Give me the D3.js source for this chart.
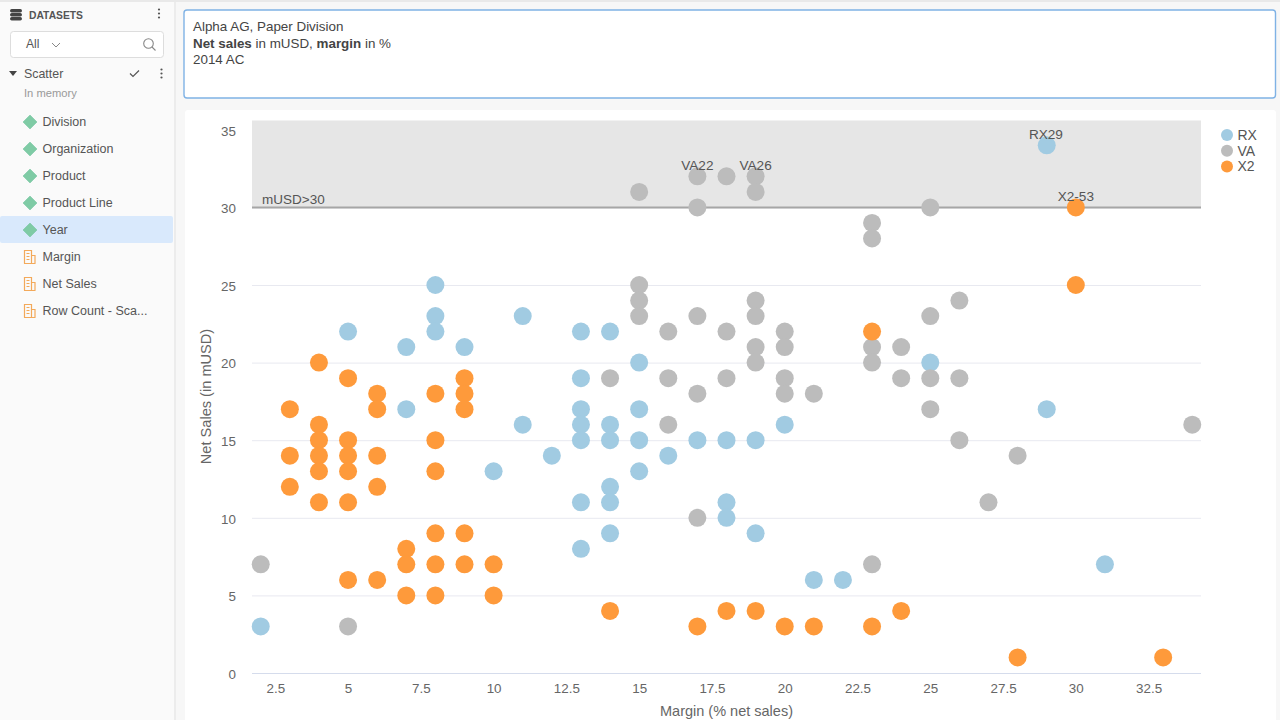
<!DOCTYPE html>
<html>
<head>
<meta charset="utf-8">
<script src="https://cdn.jsdelivr.net/npm/d3@7"></script>
<style>
html, body { margin: 0; padding: 0; background: #f7f7f7; overflow: hidden; }
svg { display: block; font-family: "Liberation Sans", Arial, sans-serif; }
</style>
</head>
<body>
<svg id="page" width="1280" height="720"></svg>
<script>
// values: [margin, net sales]
const rxPoints = [[2,3],[5,22],[7,21],[7,17],[8,25],[8,23],[8,22],[9,21],[10,13],[11,23],[11,16],[12,14],
  [13,22],[13,19],[13,17],[13,16],[13,15],[13,11],[13,8],[14,22],[14,16],[14,15],[14,12],[14,11],[14,9],
  [15,20],[15,17],[15,15],[15,13],[16,14],[17,15],[18,15],[18,11],[18,10],[19,15],[19,9],[20,16],
  [21,6],[22,6],[25,20],[29,34],[29,17],[31,7]];
const vaPoints = [[2,7],[5,3],[14,19],[15,31],[15,25],[15,24],[15,23],[16,22],[16,19],[16,16],[17,32],[17,30],
  [17,23],[17,18],[17,10],[18,32],[18,22],[18,19],[19,32],[19,31],[19,24],[19,23],[19,21],[19,20],
  [20,22],[20,21],[20,19],[20,18],[21,18],[23,29],[23,28],[23,21],[23,20],[23,7],[24,21],[24,19],
  [25,30],[25,23],[25,19],[25,17],[26,24],[26,19],[26,15],[27,11],[28,14],[34,16]];
const x2Points = [[3,17],[3,14],[3,12],[4,20],[4,16],[4,15],[4,14],[4,13],[4,11],[5,19],[5,15],[5,14],[5,13],
  [5,11],[5,6],[6,18],[6,17],[6,14],[6,12],[6,6],[7,8],[7,7],[7,5],[8,18],[8,15],[8,13],[8,9],[8,7],[8,5],
  [9,19],[9,18],[9,17],[9,9],[9,7],[10,7],[10,5],[14,4],[17,3],[18,4],[19,4],[20,3],[21,3],[23,22],[23,3],
  [24,4],[28,1],[30,30],[30,25],[33,1]];
const seriesNames = ["RX", "VA", "X2"];
const xTicks = [2.5, 5, 7.5, 10, 12.5, 15, 17.5, 20, 22.5, 25, 27.5, 30, 32.5];
const yTicks = [0, 5, 10, 15, 20, 25, 30, 35];
const pointLabels = [["VA22",17,32],["VA26",19,32],["RX29",29,34],["X2-53",30,30]];
const threshold = 30;
const datasetFields = ["Division", "Organization", "Product", "Product Line", "Year"];
const measureFields = ["Margin", "Net Sales", "Row Count - Sca..."];

const color = d3.scaleOrdinal().domain(seriesNames).range(["#a1cbe2", "#bcbcbc", "#fe9a3b"]);
const seriesData = { RX: rxPoints, VA: vaPoints, X2: x2Points };

const svg = d3.select("#page");
const textColor = "#555";

// ---- sidebar ----
const side = svg.append("g");
side.append("rect").attr("width", 174).attr("height", 720).attr("fill", "#fafafa");
side.append("rect").attr("x", 174).attr("width", 2).attr("height", 720).attr("fill", "#ececec");
svg.append("rect").attr("width", 1280).attr("height", 2).attr("fill", "#e9e9e9");

// database icon
[10, 14, 18].forEach(y => {
  side.append("rect").attr("x", 10).attr("y", y - 1).attr("width", 12).attr("height", 3.4)
    .attr("rx", 1.7).attr("fill", "#444");
});
side.append("text").attr("x", 29).attr("y", 19).attr("font-size", 10.3).attr("font-weight", "bold")
  .attr("fill", "#555").text("DATASETS");

function kebab(x, y) {
  [-4, 0, 4].forEach(d => side.append("circle").attr("cx", x).attr("cy", y + d).attr("r", 1.1).attr("fill", "#555"));
}
kebab(159, 13.5);
kebab(161.5, 73.5);

// filter box
side.append("rect").attr("x", 10.5).attr("y", 31.5).attr("width", 153).attr("height", 26).attr("rx", 3)
  .attr("fill", "#fff").attr("stroke", "#ddd");
side.append("text").attr("x", 26).attr("y", 48).attr("font-size", 12).attr("fill", textColor).text("All");
side.append("path").attr("d", "M52 43l4 4 4-4").attr("fill", "none").attr("stroke", "#888");
side.append("circle").attr("cx", 148.5).attr("cy", 43.5).attr("r", 4.8).attr("fill", "none").attr("stroke", "#888").attr("stroke-width", 1.1);
side.append("path").attr("d", "M152 47l3.5 3.5").attr("stroke", "#888").attr("stroke-width", 1.1);

side.append("path").attr("d", "M9 71h8l-4 5z").attr("fill", "#444");
side.append("text").attr("x", 24).attr("y", 77.5).attr("font-size", 12.4).attr("fill", textColor).text("Scatter");
side.append("path").attr("d", "M130 73.5l3 3 6-6").attr("fill", "none").attr("stroke", "#555").attr("stroke-width", 1.2);
side.append("text").attr("x", 24).attr("y", 97).attr("font-size", 11.2).attr("fill", "#999").text("In memory");

side.append("rect").attr("y", 216).attr("width", 173).attr("height", 27).attr("rx", 2).attr("fill", "#d9e9fc");

const fieldY = d3.scalePoint().domain(datasetFields.concat(measureFields)).range([122, 311]);
datasetFields.forEach(name => {
  const y = fieldY(name);
  side.append("path").attr("d", `M30 ${y-7}l7 7-7 7-7-7z`).attr("fill", "#7fcba5").attr("stroke", "#6cc09a").attr("stroke-width", 0.5);
  side.append("text").attr("x", 42.5).attr("y", y + 3.9).attr("font-size", 12.5).attr("fill", textColor).text(name);
});
measureFields.forEach(name => {
  const y = fieldY(name);
  side.append("path").attr("d", `M24.5 ${y+6.5}v-13h7v13M31.5 ${y+6.5}v-8h3.5v8M24 ${y+6.5}h11.5M26.5 ${y-3.5}h3M26.5 ${y-0.5}h3M26.5 ${y+2.5}h3`)
    .attr("fill", "none").attr("stroke", "#f3a95a").attr("stroke-width", 1.2);
  side.append("text").attr("x", 42.5).attr("y", y + 3.9).attr("font-size", 12.5).attr("fill", textColor).text(name);
});

// ---- title box ----
svg.append("rect").attr("x", 184).attr("y", 10).attr("width", 1091.5).attr("height", 88).attr("rx", 3)
  .attr("fill", "#fff").attr("stroke", "#7fb2e5").attr("stroke-width", 1.4);
const title = svg.append("g").attr("font-size", 13.4).attr("fill", "#444");
title.append("text").attr("x", 193).attr("y", 31).text("Alpha AG, Paper Division");
const line2 = title.append("text").attr("x", 193).attr("y", 48);
line2.append("tspan").attr("font-weight", "bold").text("Net sales");
line2.append("tspan").text(" in mUSD, ");
line2.append("tspan").attr("font-weight", "bold").text("margin");
line2.append("tspan").text(" in %");
title.append("text").attr("x", 193).attr("y", 64).text("2014 AC");

// ---- chart ----
svg.append("rect").attr("x", 185).attr("y", 110).attr("width", 1091).attr("height", 620).attr("rx", 3).attr("fill", "#fff");

const x = d3.scaleLinear().domain([1.7, 34.3]).range([252, 1201]);
const y = d3.scaleLinear().domain([0, 35.6]).range([673, 120.5]);

const chart = svg.append("g");

// band above the threshold
chart.append("rect").attr("x", x.range()[0]).attr("y", y(35.6))
  .attr("width", x.range()[1] - x.range()[0]).attr("height", y(threshold) - y(35.6)).attr("fill", "#e6e6e6");

const yAxis = chart.append("g").attr("transform", `translate(${x.range()[0]},0)`)
  .call(d3.axisLeft(y).tickValues(yTicks).tickSize(-(x.range()[1] - x.range()[0])).tickPadding(16));
yAxis.select(".domain").remove();
yAxis.selectAll("line").attr("stroke", d => d === 0 ? "#d5dcec" : "#e8e9f0").attr("opacity", d => d >= 35 ? 0 : 1);
yAxis.selectAll("text").attr("font-size", 13.4).attr("fill", "#666").attr("font-family", "inherit").attr("dy", "0.39em");

const xAxis = chart.append("g").attr("transform", `translate(0,${y(0)})`)
  .call(d3.axisBottom(x).tickValues(xTicks).tickFormat(d3.format("")).tickSize(0).tickPadding(10));
xAxis.select(".domain").remove();
xAxis.selectAll("text").attr("font-size", 13.4).attr("fill", "#666").attr("font-family", "inherit");

chart.append("line").attr("x1", x.range()[0]).attr("x2", x.range()[1]).attr("y1", y(threshold)).attr("y2", y(threshold))
  .attr("stroke", "#a6a6a6").attr("stroke-width", 2);
chart.append("text").attr("x", 262).attr("y", y(threshold) - 3.5).attr("font-size", 13.5).attr("fill", textColor).text("mUSD>30");

chart.append("text").attr("x", 726.5).attr("y", 716).attr("text-anchor", "middle").attr("font-size", 14.5).attr("fill", "#666")
  .text("Margin (% net sales)");
chart.append("text").attr("transform", "translate(211,396.5) rotate(-90)").attr("text-anchor", "middle").attr("font-size", 14.6).attr("fill", "#666")
  .text("Net Sales (in mUSD)");

seriesNames.forEach(name => {
  chart.append("g").selectAll("circle").data(seriesData[name]).join("circle")
    .attr("cx", d => x(d[0])).attr("cy", d => y(d[1])).attr("r", 9).attr("fill", color(name));
});

chart.append("g").selectAll("text").data(pointLabels).join("text")
  .attr("x", d => x(d[1]) - (d[0] === "RX29" ? 0.8 : 0)).attr("y", d => y(d[2]) - 6.5).attr("text-anchor", "middle")
  .attr("font-size", 13.6).attr("fill", textColor).text(d => d[0]);

// legend
const legend = chart.append("g").selectAll("g").data(seriesNames).join("g")
  .attr("transform", (d, i) => `translate(1227,${135 + i * 15.7})`);
legend.append("circle").attr("r", 6).attr("fill", d => color(d));
legend.append("text").attr("x", 10.5).attr("y", 5).attr("font-size", 14).attr("fill", textColor).text(d => d);
</script>
</body>
</html>
